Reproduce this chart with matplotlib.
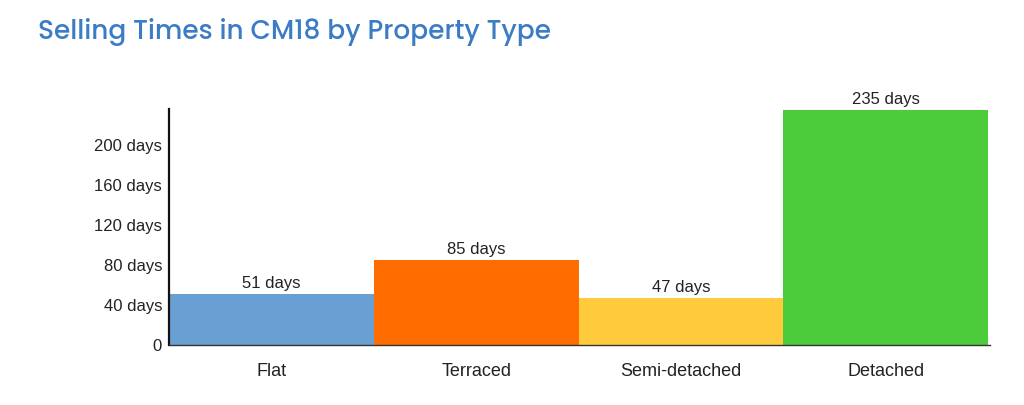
import matplotlib.pyplot as plt

categories = ["Flat", "Terraced", "Semi-detached", "Detached"]
days = [51, 85, 47, 235]
colors = ["#6a9fd3", "#ff6d00", "#ffcb3d", "#4ccb3b"]
yticks = [0, 40, 80, 120, 160, 200]
ytick_labels = ["0", "40 days", "80 days", "120 days", "160 days", "200 days"]

plt.rcParams['font.family'] = ['Liberation Sans', 'DejaVu Sans']

fig = plt.figure(figsize=(10.24, 4.05), dpi=100)
ax = fig.add_axes([0.165, 0.148, 0.802, 0.583])

x = range(len(categories))
ax.bar(x, days, width=1.0, color=colors, edgecolor="none")
for i, d in zip(x, days):
    ax.text(i, d + 3, f"{d} days", ha="center", va="bottom", fontsize=12, color="#222222")

ax.set_xlim(-0.5, len(categories) - 0.49)
ax.set_ylim(0, 236)
ax.set_yticks(yticks)
ax.set_yticklabels(ytick_labels, fontsize=12, color="#222222")
ax.set_xticks(list(x))
ax.set_xticklabels(categories, fontsize=13, color="#222222")
ax.tick_params(axis="x", length=0, pad=13)
ax.tick_params(axis="y", length=0, pad=5)

ax.spines["top"].set_visible(False)
ax.spines["right"].set_visible(False)
ax.spines["left"].set_linewidth(1.6)
ax.spines["left"].set_color("#111111")
ax.spines["bottom"].set_linewidth(1.0)
ax.spines["bottom"].set_color("#333333")

fig.text(0.037, 0.922, "Selling Times in CM18 by Property Type", fontsize=19,
         color="#3b7cc5", family=["Poppins", "Lato", "DejaVu Sans"], weight="medium",
         va="center", ha="left")

fig.savefig("out.png", dpi=100)
